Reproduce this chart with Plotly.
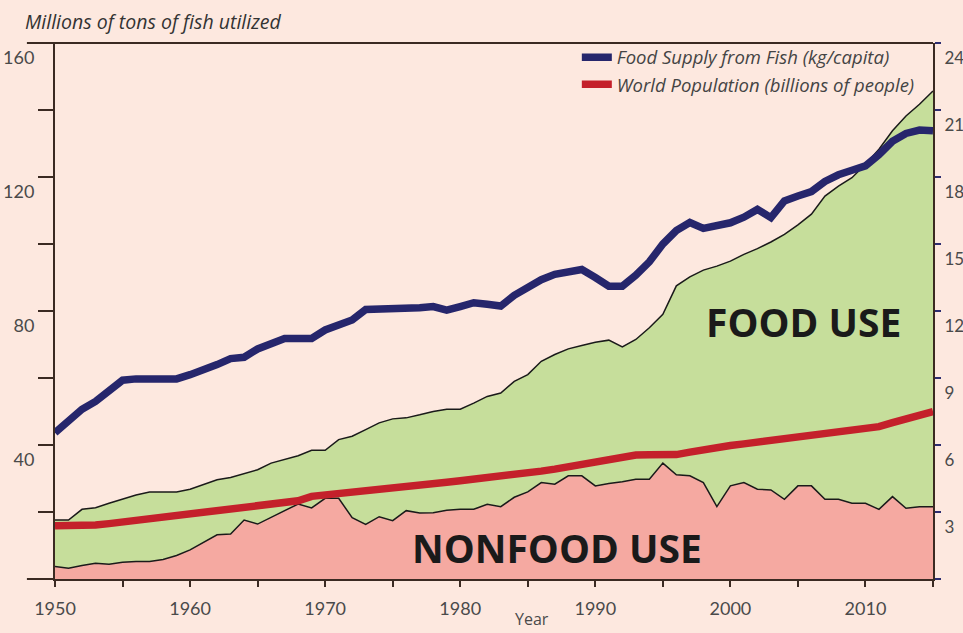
import plotly.graph_objects as go

years = list(range(1950, 2016))

# Total fish utilized (food + nonfood), million tons
total = [17.6, 17.6, 20.8, 21.3, 22.6, 23.9, 25.1, 26.0, 26.0, 26.0,
         26.8, 28.1, 29.6, 30.3, 31.4, 32.6, 34.6, 35.6, 36.8, 38.4,
         38.4, 41.6, 42.6, 44.6, 46.6, 47.8, 48.1, 49.0, 50.0, 50.7,
         50.7, 52.5, 54.5, 55.5, 59.0, 61.0, 65.0, 67.0, 68.7, 69.7,
         70.7, 71.3, 69.3, 71.5, 75.0, 79.0, 87.5, 90.2, 92.2, 93.4,
         94.9, 96.9, 98.6, 100.6, 102.9, 105.7, 108.9, 114.3, 117.3, 119.8,
         123.8, 128.3, 133.8, 138.2, 141.7, 145.7]

# Nonfood use, million tons
nonfood = [3.7, 3.2, 4.0, 4.7, 4.4, 5.0, 5.2, 5.2, 5.8, 7.0,
           8.7, 11.0, 13.2, 13.4, 17.6, 16.4, 18.4, 20.3, 22.4, 21.2,
           24.1, 24.1, 18.3, 16.3, 18.6, 17.4, 20.4, 19.7, 19.8, 20.5,
           20.8, 20.8, 22.3, 21.6, 24.4, 26.0, 28.8, 28.3, 30.8, 30.8,
           27.8, 28.5, 29.0, 29.8, 29.8, 34.6, 31.1, 30.8, 28.8, 21.6,
           27.8, 28.8, 26.8, 26.6, 23.8, 27.8, 27.8, 23.8, 23.8, 22.6,
           22.6, 20.8, 24.6, 21.1, 21.6, 21.6]

# Food supply from fish, kg/capita
food_supply = [6.55, 7.1, 7.6, 7.95, 8.4, 8.9, 8.96, 8.96, 8.96, 8.96,
               9.15, 9.35, 9.6, 9.87, 9.93, 10.3, 10.55, 10.77, 10.77, 10.77,
               11.15, 11.35, 11.6, 12.07, 12.07, 12.07, 12.1, 12.15, 12.2, 12.04,
               12.2, 12.37, 12.3, 12.22, 12.7, 13.1, 13.4, 13.64, 13.75, 13.86,
               13.5, 13.11, 13.11, 13.6, 14.2, 15.0, 15.6, 15.96, 15.7, 15.85,
               15.95, 16.2, 16.55, 16.18, 16.93, 17.15, 17.35, 17.8, 18.1, 18.3,
               18.5, 19.0, 19.6, 19.95, 20.1, 20.07]

# World population, billions
population = [2.38, 2.38, 2.4, 2.42, 2.48, 2.55, 2.65, 2.73, 2.8, 2.88,
              2.95, 3.0, 3.05, 3.1, 3.16, 3.22, 3.3, 3.38, 3.5, 3.7,
              3.76, 3.8, 3.85, 3.9, 3.95, 4.02, 4.1, 4.18, 4.26, 4.33,
              4.4, 4.46, 4.52, 4.58, 4.66, 4.74, 4.83, 4.92, 5.02, 5.12,
              5.24, 5.35, 5.45, 5.55, 5.56, 5.56, 5.57, 5.68, 5.8, 5.9,
              5.98, 6.05, 6.12, 6.2, 6.3, 6.38, 6.46, 6.55, 6.62, 6.68,
              6.75, 6.82, 7.0, 7.18, 7.35, 7.5]

left_ticks = [20, 40, 60, 80, 100, 120, 140, 160]
left_labels = ["", "40", "", "80", "", "120", "", "160"]
right_ticks = [0, 3, 6, 9, 12, 15, 18, 21, 24]
right_labels = ["", "3", "6", "9", "12", "15", "18", "21", "24"]

BG = "#FDE8DF"
AXIS = "#3b2a22"
TICKFONT = dict(family="Liberation Sans Narrow, Lato, sans-serif", size=18, color="#4a4a4a")
RTICKFONT = dict(family="Liberation Sans Narrow, Lato, sans-serif", size=17, color="#4a4a4a")
ITALIC = dict(family="Open Sans, sans-serif", size=18.5, color="#444444", style="italic")

fig = go.Figure()

fig.add_trace(go.Scatter(x=years, y=nonfood, mode="lines", fill="tozeroy",
                         fillcolor="#F5A9A1", line=dict(color="#1a1a1a", width=1.5),
                         showlegend=False, hoverinfo="skip"))
fig.add_trace(go.Scatter(x=years, y=total, mode="lines", fill="tonexty",
                         fillcolor="#C6DE9B", line=dict(color="#1a1a1a", width=1.5),
                         showlegend=False, hoverinfo="skip"))
fig.add_trace(go.Scatter(x=years, y=food_supply, mode="lines", yaxis="y2",
                         name="Food Supply from Fish (kg/capita)",
                         line=dict(color="#26266C", width=7.5)))
fig.add_trace(go.Scatter(x=years, y=population, mode="lines", yaxis="y2",
                         name="World Population (billions of people)",
                         line=dict(color="#C4202B", width=7.5)))

fig.update_layout(
    width=963, height=633,
    margin=dict(l=55, r=30, t=43, b=54),
    paper_bgcolor=BG, plot_bgcolor=BG,
    xaxis=dict(range=[1950, 2015], tick0=1950, dtick=10, ticks="outside",
               ticklen=6, tickwidth=1.5, tickcolor=AXIS, automargin=False,
               ticklabelstandoff=6,
               minor=dict(dtick=5, tick0=1950, ticks="outside", ticklen=6,
                          tickwidth=1.5, tickcolor=AXIS),
               showline=True, linecolor=AXIS, linewidth=2, showgrid=False,
               zeroline=False, tickfont=TICKFONT),
    yaxis=dict(range=[0, 160], tickvals=left_ticks, ticktext=left_labels,
               ticks="outside", ticklen=15, tickwidth=1.5, tickcolor=AXIS,
               ticklabelshift=15, automargin=False,
               showline=True, linecolor=AXIS, linewidth=2, showgrid=False,
               zeroline=False, tickfont=TICKFONT),
    yaxis2=dict(range=[0, 24], tickvals=right_ticks, ticktext=right_labels,
                overlaying="y", side="right", ticks="outside", ticklen=6,
                tickwidth=2, tickcolor="#2d2d70", ticklabelshift=15,
                automargin=False,
                showline=True, linecolor=AXIS, linewidth=2, showgrid=False,
                zeroline=False, tickfont=RTICKFONT),
    legend=dict(x=0.985, xanchor="right", y=1.008, yanchor="top",
                bgcolor="rgba(0,0,0,0)", itemwidth=30, tracegroupgap=0,
                traceorder="normal", font=ITALIC),
    showlegend=True,
    shapes=[
        dict(type="line", xref="paper", yref="paper", x0=-0.032, x1=1.0,
             y0=1.0, y1=1.0, line=dict(color=AXIS, width=2)),
        dict(type="line", xref="paper", yref="paper", x0=-0.032, x1=0.0,
             y0=0.0, y1=0.0, line=dict(color=AXIS, width=2)),
    ],
    annotations=[
        dict(text="Millions of tons of fish utilized", xref="paper", yref="paper",
             x=-0.037, y=1.012, xanchor="left", yanchor="bottom", showarrow=False,
             font=dict(family="Open Sans, sans-serif", size=19.5, color="#333333",
                       style="italic")),
        dict(text="Year", xref="paper", yref="paper", x=0.543, y=-0.074,
             xanchor="center", yanchor="middle", showarrow=False,
             font=dict(family="Open Sans, sans-serif", size=16, color="#4a4a4a")),
        dict(text="<b>FOOD USE</b>", x=2005.4, y=77, xref="x", yref="y",
             showarrow=False,
             font=dict(family="Open Sans, sans-serif", size=39, color="#1a1a1a")),
        dict(text="<b>NONFOOD USE</b>", x=1987.2, y=9.5, xref="x", yref="y",
             showarrow=False,
             font=dict(family="Open Sans, sans-serif", size=39, color="#1a1a1a")),
    ],
)

fig.write_html(
    "out.html",
    config={"displayModeBar": False},
    post_script="document.body.style.margin='0';document.body.style.background='%s';" % BG,
)
